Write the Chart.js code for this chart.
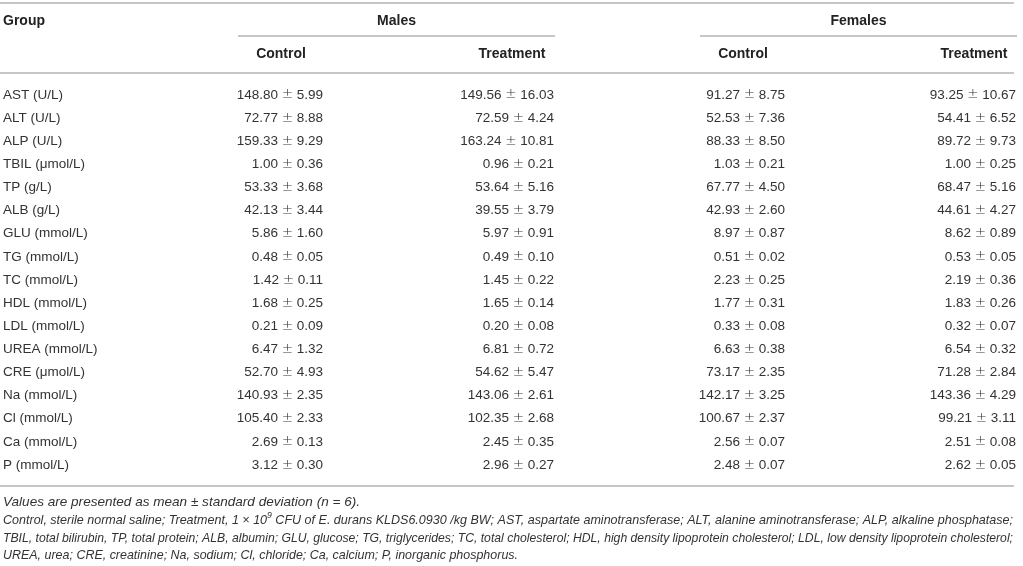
<!DOCTYPE html>
<html>
<head>
<meta charset="utf-8">
<script src="https://cdn.jsdelivr.net/npm/chart.js@4.4.1/dist/chart.umd.min.js"></script>
<style>
  html, body { margin: 0; padding: 0; background: #fff; }
  #wrap { width: 1023px; height: 566px; position: relative; }
</style>
</head>
<body>
<div id="wrap"><canvas id="tbl"></canvas></div>
<script>
const groups = ['Males', 'Females'];
const columns = ['Control', 'Treatment', 'Control', 'Treatment'];
const rows = ['AST (U/L)', 'ALT (U/L)', 'ALP (U/L)', 'TBIL (\u03bcmol/L)', 'TP (g/L)', 'ALB (g/L)',
  'GLU (mmol/L)', 'TG (mmol/L)', 'TC (mmol/L)', 'HDL (mmol/L)', 'LDL (mmol/L)', 'UREA (mmol/L)',
  'CRE (\u03bcmol/L)', 'Na (mmol/L)', 'Cl (mmol/L)', 'Ca (mmol/L)', 'P (mmol/L)'];

const maleControlMean = [148.80, 72.77, 159.33, 1.00, 53.33, 42.13, 5.86, 0.48, 1.42, 1.68, 0.21, 6.47, 52.70, 140.93, 105.40, 2.69, 3.12];
const maleControlSD   = [5.99, 8.88, 9.29, 0.36, 3.68, 3.44, 1.60, 0.05, 0.11, 0.25, 0.09, 1.32, 4.93, 2.35, 2.33, 0.13, 0.30];
const maleTreatMean   = [149.56, 72.59, 163.24, 0.96, 53.64, 39.55, 5.97, 0.49, 1.45, 1.65, 0.20, 6.81, 54.62, 143.06, 102.35, 2.45, 2.96];
const maleTreatSD     = [16.03, 4.24, 10.81, 0.21, 5.16, 3.79, 0.91, 0.10, 0.22, 0.14, 0.08, 0.72, 5.47, 2.61, 2.68, 0.35, 0.27];
const femaleControlMean = [91.27, 52.53, 88.33, 1.03, 67.77, 42.93, 8.97, 0.51, 2.23, 1.77, 0.33, 6.63, 73.17, 142.17, 100.67, 2.56, 2.48];
const femaleControlSD   = [8.75, 7.36, 8.50, 0.21, 4.50, 2.60, 0.87, 0.02, 0.25, 0.31, 0.08, 0.38, 2.35, 3.25, 2.37, 0.07, 0.07];
const femaleTreatMean   = [93.25, 54.41, 89.72, 1.00, 68.47, 44.61, 8.62, 0.53, 2.19, 1.83, 0.32, 6.54, 71.28, 143.36, 99.21, 2.51, 2.62];
const femaleTreatSD     = [10.67, 6.52, 9.73, 0.25, 5.16, 4.27, 0.89, 0.05, 0.36, 0.26, 0.07, 0.32, 2.84, 4.29, 3.11, 0.08, 0.05];

const means = [maleControlMean, maleTreatMean, femaleControlMean, femaleTreatMean];
const sds = [maleControlSD, maleTreatSD, femaleControlSD, femaleTreatSD];

// footnote lines, [before superscript, superscript, after]
const notes = [
  ['Values are presented as mean \u00b1 standard deviation (n = 6).'],
  ['Control, sterile normal saline; Treatment, 1 \u00d7 10', '9', ' CFU of E. durans KLDS6.0930 /kg BW; AST, aspartate aminotransferase; ALT, alanine aminotransferase; ALP, alkaline phosphatase;'],
  ['TBIL, total bilirubin, TP, total protein; ALB, albumin; GLU, glucose; TG, triglycerides; TC, total cholesterol; HDL, high density lipoprotein cholesterol; LDL, low density lipoprotein cholesterol;'],
  ['UREA, urea; CRE, creatinine; Na, sodium; Cl, chloride; Ca, calcium; P, inorganic phosphorus.']
];
const noteWidths = [357, 1010, 1010, 515];

const FONT = "'Liberation Sans', Arial, Helvetica, sans-serif";
const PM_FONT = "'DejaVu Sans', sans-serif";
const RULE = '#c6c6c6';

function hline(ctx, x1, x2, y, w){
  ctx.beginPath();
  ctx.lineWidth = w;
  ctx.strokeStyle = RULE;
  ctx.moveTo(x1, y);
  ctx.lineTo(x2, y);
  ctx.stroke();
}

// mean ± sd, right aligned at x
function drawCell(ctx, m, s, x, y){
  const a = m.toFixed(2) + ' ', b = ' ' + s.toFixed(2);
  const f1 = '13.5px ' + FONT, f2 = '200 13.5px ' + PM_FONT;
  ctx.font = f1;
  const wa = ctx.measureText(a).width, wb = ctx.measureText(b).width;
  ctx.font = f2;
  const wp = ctx.measureText('\u00b1').width;
  let cx = x - wa - wp - wb;
  ctx.textAlign = 'left';
  ctx.font = f1; ctx.fillText(a, cx, y); cx += wa;
  ctx.font = f2; ctx.fillText('\u00b1', cx, y); cx += wp;
  ctx.font = f1; ctx.fillText(b, cx, y);
}

const tableDecor = {
  id: 'tableDecor',
  afterDatasetsDraw(chart){
    const ctx = chart.ctx;
    const xs = chart.scales.x;
    const area = chart.chartArea;
    const right = area.right;
    ctx.save();

    // rules
    hline(ctx, 0, right, 3, 2);
    hline(ctx, 0, right, area.top - 10.5, 2);
    hline(ctx, 0, right, area.bottom + 9.5, 2);
    groups.forEach((g, gi)=>{
      const a = xs.getPixelForValue(gi * 2), b = xs.getPixelForValue(gi * 2 + 1);
      hline(ctx, a - 43, b + 43, 36, 2);
    });

    // top header
    ctx.fillStyle = '#222';
    ctx.font = 'bold 14px ' + FONT;
    ctx.textBaseline = 'middle';
    ctx.textAlign = 'left';
    ctx.fillText('Group', 3, 21);
    ctx.textAlign = 'center';
    groups.forEach((g, gi)=>{
      ctx.fillText(g, xs.getPixelForValue(gi * 2 + 0.5), 21);
    });

    // cells
    ctx.fillStyle = '#333';
    chart.data.datasets.forEach((ds, ci)=>{
      const meta = chart.getDatasetMeta(ci);
      meta.data.forEach((el, ri)=>{
        drawCell(ctx, means[ci][ri], sds[ci][ri], el.x + 42, el.y);
      });
    });

    // footnotes
    ctx.textAlign = 'left';
    let y = area.bottom + 26;
    notes.forEach((parts, li)=>{
      let w = 0;
      parts.forEach((p, pi)=>{
        ctx.font = 'italic ' + (pi == 1 ? '9px ' : '13px ') + FONT;
        w += ctx.measureText(p).width;
      });
      ctx.save();
      ctx.translate(3, y);
      ctx.scale(noteWidths[li] / w, 1);
      let x = 0;
      parts.forEach((p, pi)=>{
        ctx.font = 'italic ' + (pi == 1 ? '9px ' : '13px ') + FONT;
        ctx.fillText(p, x, pi == 1 ? -5 : 0);
        x += ctx.measureText(p).width;
      });
      ctx.restore();
      y += 17.7;
    });
    ctx.restore();
  }
};

const ctx = document.getElementById('tbl').getContext('2d');
const table = new Chart(ctx, {
  type: 'scatter',
  data: {
    datasets: columns.map((c, ci)=>({
      label: c,
      data: rows.map((r)=>({x: ci, y: r})),
      pointRadius: 0,
      pointHoverRadius: 0
    }))
  },
  options: {
    responsive: true,
    maintainAspectRatio: false,
    animation: false,
    events: [],
    layout: { padding: { left: 3, right: 9, top: 0, bottom: 89.4 } },
    plugins: { legend: { display: false }, tooltip: { enabled: false } },
    scales: {
      x: {
        type: 'linear',
        position: 'top',
        min: -0.511,
        max: 3.173,
        grid: { display: false, drawTicks: false },
        border: { display: false },
        afterBuildTicks: (scale)=>{ scale.ticks = columns.map((c, i)=>({value: i})); },
        afterFit: (scale)=>{
          scale.height = 83.4;
          scale.paddingLeft = 0;
          scale.paddingRight = 0;
        },
        ticks: {
          autoSkip: false,
          maxRotation: 0,
          padding: 21,
          color: '#222',
          font: { family: FONT, size: 14, weight: 'bold' },
          callback: (v)=>columns[v]
        }
      },
      y: {
        type: 'category',
        labels: rows,
        offset: true,
        grid: { display: false, drawTicks: false },
        border: { display: false },
        afterFit: (scale)=>{ scale.width = 160; },
        ticks: {
          autoSkip: false,
          crossAlign: 'far',
          padding: 0,
          color: '#333',
          font: { family: FONT, size: 13.5 }
        }
      }
    }
  },
  plugins: [tableDecor]
});
</script>
</body>
</html>
